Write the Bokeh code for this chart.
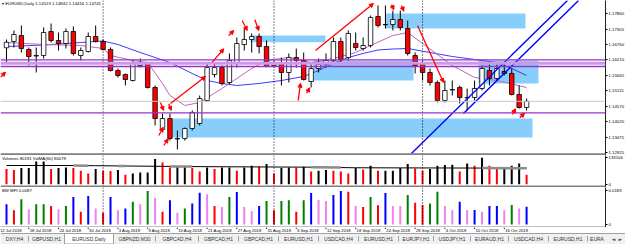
import numpy as np
import pandas as pd
from bokeh.plotting import figure
from bokeh.layouts import column
from bokeh.models import (Range1d, FixedTicker, Span, Label, Arrow, NormalHead,
                          ColumnDataSource, PrintfTickFormatter)
from bokeh.embed import file_html
from bokeh.resources import INLINE

# ---------------- data ----------------
dates = pd.bdate_range("2018-07-12", "2018-10-19")      # first date sits just left of the view
date_pos = np.arange(len(dates)) - 1                     # bar index -1 .. 70
bar_x = date_pos[1:]

opens = [1.16642, 1.16866, 1.17079, 1.16582, 1.16351, 1.16369, 1.17221, 1.16901, 1.16795, 1.17221,
         1.16369, 1.16511, 1.17043, 1.16866, 1.16582, 1.15836, 1.15694, 1.15481, 1.16014, 1.16085,
         1.15233, 1.13742, 1.14132, 1.13404, 1.13422, 1.13777, 1.13955, 1.14771, 1.15694, 1.15943,
         1.15410, 1.16120, 1.16759, 1.16937, 1.17043, 1.16688, 1.16014, 1.16120, 1.15765, 1.16298,
         1.16191, 1.15446, 1.15907, 1.16049, 1.16191, 1.16866, 1.16298, 1.16795, 1.16617, 1.16724,
         1.17753, 1.17469, 1.17469, 1.17647, 1.17327, 1.16369, 1.16120, 1.15765, 1.15410, 1.14771,
         1.15144, 1.15233, 1.14867, 1.14878, 1.15197, 1.15836, 1.15552, 1.15801, 1.15730, 1.14984,
         1.14523]
highs = [1.16937, 1.17256, 1.17434, 1.16653, 1.16653, 1.17363, 1.17505, 1.17185, 1.17327, 1.17398,
         1.16653, 1.17185, 1.17434, 1.16937, 1.16653, 1.15907, 1.15730, 1.16191, 1.16262, 1.16120,
         1.15304, 1.14310, 1.14310, 1.13706, 1.13813, 1.14416, 1.14949, 1.16085, 1.16085, 1.16014,
         1.16440, 1.17008, 1.17327, 1.17150, 1.17150, 1.16901, 1.16191, 1.16298, 1.16440, 1.16617,
         1.16475, 1.16120, 1.16262, 1.16440, 1.17008, 1.17008, 1.17256, 1.17185, 1.17008, 1.17789,
         1.18144, 1.18144, 1.17966, 1.17966, 1.17611, 1.16475, 1.16191, 1.15907, 1.15481, 1.15481,
         1.15481, 1.15304, 1.15197, 1.15481, 1.16014, 1.16120, 1.16120, 1.16120, 1.15907, 1.15304,
         1.14842]
lows = [1.16120, 1.16653, 1.16475, 1.16014, 1.15765, 1.16262, 1.16830, 1.16546, 1.16617, 1.16369,
        1.16191, 1.16475, 1.16830, 1.16546, 1.15801, 1.15588, 1.15304, 1.15446, 1.15943, 1.15197,
        1.13884, 1.13635, 1.13351, 1.13032, 1.13351, 1.13706, 1.13884, 1.14736, 1.15588, 1.15304,
        1.15339, 1.15943, 1.16546, 1.16475, 1.16440, 1.15943, 1.15943, 1.15304, 1.15410, 1.15943,
        1.15481, 1.15233, 1.15765, 1.15943, 1.16085, 1.16120, 1.16191, 1.16546, 1.16546, 1.16653,
        1.17363, 1.17327, 1.17256, 1.17256, 1.16369, 1.15730, 1.15481, 1.15304, 1.14700, 1.14700,
        1.14949, 1.14665, 1.14416, 1.14771, 1.15126, 1.15304, 1.15481, 1.15659, 1.14949, 1.14487,
        1.14416]
closes = [1.16841, 1.17114, 1.16617, 1.16333, 1.16369, 1.17185, 1.16901, 1.16795, 1.17221, 1.16440,
          1.16546, 1.17043, 1.16866, 1.16582, 1.15836, 1.15659, 1.15517, 1.16085, 1.16120, 1.15233,
          1.14132, 1.14132, 1.13422, 1.13422, 1.13777, 1.14345, 1.14842, 1.15943, 1.15943, 1.15375,
          1.16191, 1.16795, 1.16937, 1.17043, 1.16688, 1.15978, 1.16120, 1.15765, 1.16298, 1.16191,
          1.15517, 1.15907, 1.16049, 1.16191, 1.16866, 1.16227, 1.17150, 1.16653, 1.16724, 1.17718,
          1.17434, 1.17460, 1.17647, 1.17363, 1.16440, 1.16014, 1.15765, 1.15410, 1.14771, 1.15126,
          1.15162, 1.14878, 1.14878, 1.15197, 1.15907, 1.15552, 1.15907, 1.15730, 1.14984, 1.14523,
          1.14741]

# moving averages (read at a few bars)
ma_slow_x = [0, 5, 10, 13, 15, 18, 20, 22, 25, 27, 29, 31, 34, 37, 40, 42, 44, 46, 48, 50, 52, 54,
             57, 60, 63, 66, 68, 70]
ma_slow = [1.16688, 1.16741, 1.16830, 1.16883, 1.16759, 1.16475, 1.16298, 1.16120, 1.15730, 1.15481,
           1.15375, 1.15304, 1.15375, 1.15481, 1.15623, 1.15836, 1.16085, 1.16298, 1.16440, 1.16564,
           1.16599, 1.16617, 1.16475, 1.16333, 1.16227, 1.16120, 1.15907, 1.15659]
ma_fast_x = [0, 5, 10, 13, 14, 17, 19, 21, 22, 24, 26, 29, 33, 35, 38, 41, 44, 47, 49, 52, 54, 56,
             60, 63, 66, 70]
ma_fast = [1.16830, 1.16759, 1.16724, 1.16617, 1.16369, 1.16191, 1.16120, 1.15375, 1.14949, 1.14594,
           1.14700, 1.15197, 1.15907, 1.16191, 1.16298, 1.16120, 1.16262, 1.16475, 1.16724, 1.17079,
           1.17185, 1.16795, 1.16014, 1.15588, 1.15481, 1.15233]

volumes = [76350, 71330, 81370, 81370, 114520, 114520, 76350, 81370, 84390, 81370,
           67810, 54250, 76350, 67810, 66500, 71330, 47720, 54250, 59270, 59270,
           126580, 109500, 84390, 87900, 87900, 81370, 64290, 84390, 76350, 84390,
           84390, 67810, 84390, 92930, 87900, 101460, 54250, 81370, 84390, 83000,
           87900, 64290, 67810, 71330, 67810, 64290, 54250, 81370, 74340, 92930,
           67000, 67810, 67810, 81370, 101460, 79360, 67810, 76350, 92930, 96440,
           97950, 64290, 104480, 92930, 133106, 92930, 81370, 81370, 92930, 104480,
           47720]
vol_ma_x = [0, 9, 12, 20, 27, 41, 47, 64, 70]
vol_ma = [93900, 93900, 93000, 90000, 88000, 85500, 82500, 81000, 80079]
vol_ma_grey = [(9, 11), (15, 16), (22, 25), (41, 45), (64, 70)]

mfi = [0.0110, 0.0078, 0.0138, 0.0083, 0.0110, 0.0110, 0.0101, 0.0083, 0.0101, 0.0150,
       0.0070, 0.0156, 0.0088, 0.0064, 0.0150, 0.0078, 0.0088, 0.0124, 0.0110, 0.0183,
       0.0146, 0.0070, 0.0132, 0.0064, 0.0088, 0.0114, 0.0174, 0.0165, 0.0101, 0.0096,
       0.0150, 0.0177, 0.0096, 0.0074, 0.0101, 0.0128, 0.0078, 0.0128, 0.0132, 0.0070,
       0.0132, 0.0172, 0.0134, 0.0128, 0.0161, 0.0183, 0.0179, 0.0101, 0.0096, 0.0150,
       0.0105, 0.0172, 0.0101, 0.0101, 0.0161, 0.0119, 0.0106, 0.0114, 0.0179, 0.0101,
       0.0078, 0.0124, 0.0079, 0.0079, 0.0070, 0.0101, 0.0101, 0.0078, 0.0106, 0.0088,
       0.0097]
mfi_kind = list("KDGSGGDSGK" "DKSDKSKGSG" "SDKSGKKSDS" "GKSSKGDGGD"
                "GKSSKKDSDG" "DKSSGDDGGS" "SKSKSKKSGS" "K")

price_ticks = [1.12925, 1.13475, 1.14020, 1.14570, 1.15115, 1.15665, 1.16210, 1.16760, 1.17305, 1.17860]
h_levels = [1.16216, 1.15978, 1.14330]
h_band = 1.16092
bid = closes[-1]

zones_l = [22.34, 32.84, 41.32, 51.01, 63.53]
zones_r = [70.80, 42.93, 54.78, 69.85, 71.60]
zones_t = [1.14132, 1.17079, 1.16191, 1.17860, 1.16191]
zones_b = [1.13457, 1.16841, 1.15481, 1.17327, 1.15375]

trend_x = [[54.5, 75.5], [61.5, 76.99]]
trend_y = [[1.12890, 1.18321], [1.14310, 1.18321]]

arr_x0 = [22.07, 41.59, 55.32, 27.69, 29.92, 31.72, 33.42, 39.26, 40.38, 51.82, 53.16, 20.73, 21.84,
          20.50, 21.17, 68.06, 69.08, -0.81]
arr_y0 = [1.14665, 1.16546, 1.17434, 1.16131, 1.17079, 1.17611, 1.17636, 1.14771, 1.15030, 1.18179,
          1.18144, 1.14700, 1.14654, 1.13529, 1.13174, 1.14274, 1.14157, 1.15598]
arr_x1 = [26.78, 49.39, 58.82, 29.25, 30.59, 32.40, 33.96, 39.57, 40.82, 52.13, 53.47, 21.13, 22.17,
          21.09, 21.76, 68.51, 69.72, -0.13]
arr_y1 = [1.15623, 1.18215, 1.15410, 1.16606, 1.17256, 1.17256, 1.17256, 1.15385, 1.15222, 1.17991,
          1.17941, 1.14416, 1.14416, 1.13823, 1.13413, 1.14476, 1.14320, 1.15776]

tab_names = ["DXY,H4", "GBPUSD,H1", "EURUSD,Daily", "GBPNZD,M30", "GBPCAD,H4", "GBPCAD,H1",
             "GBPCAD,H1", "EURUSD,H1", "USDCAD,H4", "EURUSD,H1", "EURJPY,H1", "USDJPY,H1",
             "EURAUD,H1", "USDCAD,H4", "EURUSD,H1", "EURA"]
active_tab = 2

# ---------------- styling / layout ----------------
FONT = "Liberation Sans"
XR = (-0.8075, 80.62)
FW = 605
RED, BLACK = "#ff0000", "#000000"
PURPLE = "#9932cc"
kind_color = {"G": "#008000", "D": "#ff0000", "K": "#0000ff", "S": "#ee82ee"}
shared_x = Range1d(*XR)


def panel(h, yr):
    p = figure(frame_width=FW, frame_height=h, x_range=shared_x, y_range=Range1d(*yr),
               output_backend="svg", toolbar_location=None, min_border=0, min_border_right=20,
               x_axis_location=None, y_axis_location="right",
               background_fill_color="white", border_fill_color="white", outline_line_color=None)
    p.grid.visible = False
    ax = p.yaxis[0]
    ax.axis_line_color = "#202020"
    ax.major_tick_out = 2
    ax.major_tick_in = 0
    ax.minor_tick_out = 0
    ax.minor_tick_in = 0
    ax.major_label_standoff = 1
    ax.major_label_text_font_size = "4.3px"
    ax.major_label_text_font = FONT
    ax.major_label_text_color = "#000000"
    return p


month_starts = [int(date_pos[k]) for k in range(1, len(dates)) if dates[k].month != dates[k - 1].month]


def separators(p):
    for m in month_starts:
        p.add_layout(Span(location=m, dimension="height", line_color="#000000",
                          line_dash="1 2", line_width=1))


# ---- main price panel ----
pmain = panel(155, (1.128185, 1.18321))
pmain.yaxis[0].ticker = FixedTicker(ticks=price_ticks)
pmain.yaxis[0].formatter = PrintfTickFormatter(format="%.5f")

pmain.quad(left=zones_l, right=zones_r, top=zones_t, bottom=zones_b,
           fill_color="#87cefa", line_color=None)
pmain.add_layout(Span(location=bid, dimension="width", line_color="#c8c8c8", line_width=1))
separators(pmain)
pmain.line(ma_slow_x, ma_slow, line_color="#3c3cff", line_width=1)
pmain.line(ma_fast_x, ma_fast, line_color="#c064c0", line_width=1)

o = np.array(opens); c = np.array(closes)
csrc = ColumnDataSource(dict(x=bar_x, h=highs, l=lows, top=np.maximum(o, c), bot=np.minimum(o, c),
                             col=np.where(c >= o, "#ffffff", RED)))
pmain.segment(x0="x", y0="l", x1="x", y1="h", line_color="#000000", line_width=1, source=csrc)
pmain.vbar(x="x", width=0.6, top="top", bottom="bot", fill_color="col", line_color="#000000",
           line_width=0.8, source=csrc)

for lv in h_levels:
    pmain.add_layout(Span(location=lv, dimension="width", line_color=PURPLE, line_width=1.3))
pmain.add_layout(Span(location=h_band, dimension="width", line_color="#c99be3", line_width=3))

for tx, ty in zip(trend_x, trend_y):
    pmain.line(tx, ty, line_color="#0000ff", line_width=1.4)

asrc = ColumnDataSource(dict(x0=arr_x0, y0=arr_y0, x1=arr_x1, y1=arr_y1))
pmain.add_layout(Arrow(end=NormalHead(size=4, fill_color=RED, line_color=RED, line_width=1),
                       x_start="x0", y_start="y0", x_end="x1", y_end="y1",
                       line_color=RED, line_width=1.3, source=asrc))

pmain.add_layout(Span(location=1.12861, dimension="width", line_color="#808080", line_width=2))

hdr = "\u25be EURUSD,Daily  %.5f %.5f %.5f %.5f" % (opens[-1], highs[-1], lows[-1], closes[-1])
pmain.add_layout(Label(x=XR[0] + 0.2, y=1.18321, text=hdr, text_baseline="top",
                       text_font_size="4.3px", text_font=FONT, text_color="#000000"))

lab_x = XR[1] + 0.15
for lv in h_levels:
    pmain.add_layout(Label(x=lab_x, y=lv, text="%.5f" % lv, text_baseline="middle",
                           text_font_size="4.3px", text_font=FONT, text_color="#ffffff",
                           background_fill_color=PURPLE, padding=0))
pmain.add_layout(Label(x=lab_x, y=h_band, text="%.5f" % h_band, text_baseline="middle",
                       text_font_size="4.3px", text_font=FONT, text_color="#ffffff",
                       background_fill_color="#b070d8", padding=0))
pmain.add_layout(Label(x=lab_x, y=bid, text="%.5f" % bid, text_baseline="middle",
                       text_font_size="4.3px", text_font=FONT, text_color="#ffffff",
                       background_fill_color="#000000", padding=0))

# ---- volume panel ----
pvol = panel(32, (-16576, 144160))
pvol.yaxis[0].ticker = FixedTicker(ticks=[0, 133106])
pvol.yaxis[0].formatter = PrintfTickFormatter(format="%d")
separators(pvol)
vcol = [RED if (k == 0 or volumes[k] < volumes[k - 1]) else BLACK for k in range(len(volumes))]
pvol.vbar(x=bar_x, width=0.27, top=volumes, bottom=0, fill_color=vcol, line_color=None)
pvol.line(vol_ma_x, vol_ma, line_color="#000000", line_width=1)
for a, b in vol_ma_grey:
    pvol.line([a, b], list(np.interp([a, b], vol_ma_x, vol_ma)), line_color="#8c8c8c", line_width=2.5)
pvol.add_layout(Span(location=-11553, dimension="width", line_color="#808080", line_width=2))
pvol.add_layout(Label(x=XR[0] + 0.2, y=144160, text="Volumes 80191  VolMA(60) 80079",
                      text_baseline="top", text_font_size="4.3px", text_font=FONT,
                      text_color="#000000"))

# ---- BW MFI panel ----
pmfi = panel(40, (-0.00164, 0.0202))
pmfi.yaxis[0].ticker = FixedTicker(ticks=[0, 0.0183])
pmfi.yaxis[0].major_label_overrides = {0: "0", 0.0183: "0.0183"}
separators(pmfi)
pmfi.vbar(x=bar_x, width=0.27, top=mfi, bottom=0,
          fill_color=[kind_color[k] for k in mfi_kind], line_color=None)
pmfi.add_layout(Span(location=-0.00137, dimension="width", line_color="#808080", line_width=1))
pmfi.add_layout(Label(x=XR[0] + 0.2, y=0.0202, text="BW MFI 0.0087", text_baseline="top",
                      text_font_size="4.3px", text_font=FONT, text_color="#000000"))

# ---- bottom strip: date labels (bar scale) + terminal tabs (pixel scale) ----
bot_x = Range1d(XR[0], XR[0] + (XR[1] - XR[0]) * 625.0 / FW)   # same bar scale, full width
pbot = figure(frame_width=625, frame_height=17, x_range=bot_x, y_range=Range1d(0, 17),
              output_backend="svg", toolbar_location=None, min_border=0,
              x_axis_location=None, y_axis_location=None, background_fill_color="white",
              border_fill_color="white", outline_line_color=None)
pbot.grid.visible = False
pbot.extra_x_ranges = {"px": Range1d(0, 625)}

lab_idx = [k for k in range(0, len(dates), 4)]
lab_xs = [float(date_pos[k]) for k in lab_idx]
lab_txt = ["%d %s" % (dates[k].day, dates[k].strftime("%b %Y")) for k in lab_idx]
pbot.segment(x0=lab_xs, y0=17, x1=lab_xs, y1=15.6, line_color="#000000", line_width=1)
for xv, tv in zip(lab_xs, lab_txt):
    pbot.add_layout(Label(x=xv + 0.12, y=14.2, text=tv, text_align="left",
                          text_baseline="middle", text_font_size="4.2px", text_font=FONT,
                          text_color="#000000"))

tab_edges = [0, 28, 64, 113, 155, 198, 238, 278, 318, 358, 398, 433, 470, 508, 548, 587, 606]
tcent = [(a + b) / 2 for a, b in zip(tab_edges[:-1], tab_edges[1:])]
pbot.quad(left=[0], right=[625], bottom=[-1], top=[11], fill_color="#f0f0f0",
          line_color=None, x_range_name="px")
pbot.segment(x0=[0], y0=[11], x1=[625], y1=[11], line_color="#a0a0a0", line_width=1,
             x_range_name="px")
pbot.quad(left=[tab_edges[active_tab]], right=[tab_edges[active_tab + 1]], top=[11], bottom=[0.5],
          fill_color="#ffffff", line_color="#a0a0a0", line_width=1, x_range_name="px")
pbot.segment(x0=tab_edges[1:-1], y0=3, x1=tab_edges[1:-1], y1=8.5, line_color="#a0a0a0",
             line_width=1, x_range_name="px")
for xv, tv in zip(tcent, tab_names):
    pbot.add_layout(Label(x=xv, y=5.5, text=tv, text_align="center", text_baseline="middle",
                          text_font_size="5px", text_font=FONT, text_color="#333333",
                          x_range_name="px"))
for xv, tv in zip([613, 620], ["\u25c4", "\u25ba"]):
    pbot.add_layout(Label(x=xv, y=5.5, text=tv, text_align="center", text_baseline="middle",
                          text_font_size="5px", text_font="DejaVu Sans", text_color="#555555",
                          x_range_name="px"))

layout = column(pmain, pvol, pmfi, pbot, spacing=0)
open("out.html", "w").write(file_html(layout, INLINE))
